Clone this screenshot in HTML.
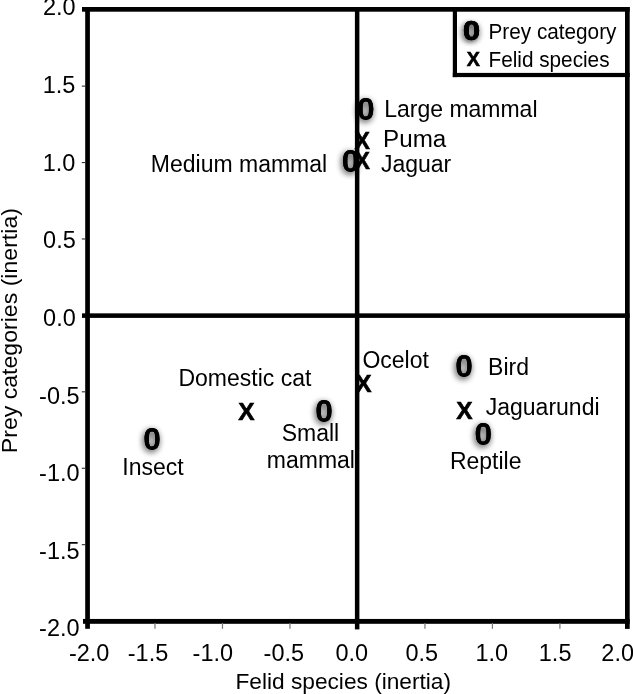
<!DOCTYPE html>
<html><head><meta charset="utf-8"><title>Correspondence analysis</title>
<style>
html,body{margin:0;padding:0;background:#fff;}
body{width:633px;height:694px;overflow:hidden;}
svg{display:block;font-family:"Liberation Sans",sans-serif;fill:#000;}
svg text{white-space:pre;}
svg text.z{filter:url(#sh);}
</style></head><body>
<svg width="633" height="694" viewBox="0 0 633 694">
<defs><filter id="sh" x="-60%" y="-40%" width="220%" height="190%"><feOffset in="SourceGraphic" dy="-0.3" result="u"/><feOffset in="SourceGraphic" dy="0.3" result="d"/><feMerge result="g"><feMergeNode in="u"/><feMergeNode in="d"/></feMerge><feGaussianBlur in="g" stdDeviation="3.2" result="b0"/><feColorMatrix in="b0" type="matrix" values="0 0 0 0 0 0 0 0 0 0 0 0 0 0 0 0 0 0 1 0" result="b"/><feOffset in="b" dx="-0.9" dy="2.3" result="o"/><feComponentTransfer in="o" result="s"><feFuncA type="linear" slope="0.8"/></feComponentTransfer><feMerge><feMergeNode in="s"/><feMergeNode in="g"/></feMerge></filter></defs>
<rect x="0" y="0" width="633" height="694" fill="#fff"/>
<rect x="85.20" y="7.00" width="4.70" height="621.80" fill="#000"/>
<rect x="82.00" y="7.00" width="547.70" height="4.70" fill="#000"/>
<rect x="625.00" y="7.00" width="4.70" height="621.90" fill="#000"/>
<rect x="83.00" y="618.95" width="546.70" height="4.85" fill="#000"/>
<rect x="354.90" y="7.00" width="4.50" height="622.40" fill="#000"/>
<rect x="82.00" y="313.35" width="547.70" height="4.55" fill="#000"/>
<rect x="452.80" y="7.00" width="4.20" height="70.10" fill="#000"/>
<rect x="452.80" y="72.90" width="176.90" height="4.20" fill="#000"/>
<rect x="81.80" y="85.58" width="3.70" height="1.10" fill="#333"/>
<rect x="81.80" y="162.00" width="3.70" height="1.10" fill="#333"/>
<rect x="81.80" y="238.42" width="3.70" height="1.10" fill="#333"/>
<rect x="81.80" y="391.27" width="3.70" height="1.10" fill="#333"/>
<rect x="81.80" y="467.70" width="3.70" height="1.10" fill="#333"/>
<rect x="81.80" y="544.13" width="3.70" height="1.10" fill="#333"/>
<rect x="154.39" y="623.00" width="1.20" height="5.80" fill="#777"/>
<rect x="221.88" y="623.00" width="1.20" height="5.80" fill="#777"/>
<rect x="289.36" y="623.00" width="1.20" height="5.80" fill="#777"/>
<rect x="424.34" y="623.00" width="1.20" height="5.80" fill="#777"/>
<rect x="491.82" y="623.00" width="1.20" height="5.80" fill="#777"/>
<rect x="559.31" y="623.00" width="1.20" height="5.80" fill="#777"/>
<text transform="translate(42.93 15.40) scale(1.0 1.02)" font-size="23.5">2.0</text>
<text transform="translate(42.66 93.35) scale(1.0 1.02)" font-size="23.5">1.5</text>
<text transform="translate(42.63 170.90) scale(1.0 1.02)" font-size="23.5">1.0</text>
<text transform="translate(43.10 248.45) scale(1.0 1.02)" font-size="23.5">0.5</text>
<text transform="translate(43.07 326.00) scale(1.0 1.02)" font-size="23.5">0.0</text>
<text transform="translate(39.12 403.55) scale(1.0 1.02)" font-size="23.5">-0.5</text>
<text transform="translate(39.09 481.10) scale(1.0 1.02)" font-size="23.5">-1.0</text>
<text transform="translate(39.12 558.65) scale(1.0 1.02)" font-size="23.5">-1.5</text>
<text transform="translate(39.09 636.20) scale(1.0 1.02)" font-size="23.5">-2.0</text>
<text transform="translate(68.96 660.80) scale(1.0 1.02)" font-size="23.5">-2.0</text>
<text transform="translate(127.76 660.80) scale(1.0 1.02)" font-size="23.5">-1.5</text>
<text transform="translate(192.56 660.80) scale(1.0 1.02)" font-size="23.5">-1.0</text>
<text transform="translate(263.56 660.80) scale(1.0 1.02)" font-size="23.5">-0.5</text>
<text transform="translate(335.48 660.80) scale(1.0 1.02)" font-size="23.5">0.0</text>
<text transform="translate(405.48 660.80) scale(1.0 1.02)" font-size="23.5">0.5</text>
<text transform="translate(475.41 660.80) scale(1.0 1.02)" font-size="23.5">1.0</text>
<text transform="translate(538.81 660.80) scale(1.0 1.02)" font-size="23.5">1.5</text>
<text transform="translate(601.32 660.80) scale(1.0 1.02)" font-size="23.5">2.0</text>
<text x="235.44" y="688.90" font-size="22.7">Felid species (inertia)</text>
<text transform="translate(17.3 453.19) rotate(-90) scale(1 0.97)" font-size="23.1">Prey categories (inertia)</text>
<text transform="translate(488.50 39.20) scale(1.0 1.03)" font-size="20.75">Prey category</text>
<text transform="translate(488.50 66.50) scale(1.0 1.03)" font-size="20.75">Felid species</text>
<text transform="translate(384.21 116.60) scale(1.0 1.02)" font-size="23">Large mammal</text>
<text transform="translate(383.11 147.40) scale(1.0 0.985)" font-size="24.2">Puma</text>
<text x="380.94" y="171.50" font-size="23">Jaguar</text>
<text x="150.81" y="172.00" font-size="23">Medium mammal</text>
<text x="362.41" y="368.40" font-size="23">Ocelot</text>
<text x="178.41" y="386.20" font-size="23">Domestic cat</text>
<text x="281.66" y="441.20" font-size="23">Small</text>
<text x="266.77" y="468.40" font-size="23">mammal</text>
<text x="122.28" y="474.60" font-size="23">Insect</text>
<text x="488.11" y="374.50" font-size="23">Bird</text>
<text x="485.74" y="414.80" font-size="23">Jaguarundi</text>
<text x="449.91" y="469.10" font-size="23">Reptile</text>
<text class="z" transform="translate(356.89 120.29) scale(1.058 1.064)" font-size="30" font-weight="bold">0</text>
<text class="z" transform="translate(341.69 171.59) scale(1.058 1.064)" font-size="30" font-weight="bold">0</text>
<text class="z" transform="translate(143.19 449.69) scale(1.058 1.064)" font-size="30" font-weight="bold">0</text>
<text class="z" transform="translate(315.29 421.79) scale(1.058 1.064)" font-size="30" font-weight="bold">0</text>
<text class="z" transform="translate(455.19 377.09) scale(1.058 1.064)" font-size="30" font-weight="bold">0</text>
<text class="z" transform="translate(474.39 444.79) scale(1.058 1.064)" font-size="30" font-weight="bold">0</text>
<text class="z" transform="translate(462.99 39.99) scale(1.023 0.890)" font-size="30" font-weight="bold" stroke="#000" stroke-width="0.732">0</text>
<text transform="translate(354.40 148.50) scale(0.962 1.030)" font-size="24" font-weight="bold" stroke="#000" stroke-width="0.602" stroke-linejoin="miter">X</text>
<text transform="translate(354.40 169.40) scale(0.962 1.030)" font-size="24" font-weight="bold" stroke="#000" stroke-width="0.602" stroke-linejoin="miter">X</text>
<text transform="translate(238.23 420.10) scale(1.020 1.030)" font-size="24" font-weight="bold" stroke="#000" stroke-width="0.585" stroke-linejoin="miter">X</text>
<text transform="translate(355.13 391.50) scale(1.020 1.030)" font-size="24" font-weight="bold" stroke="#000" stroke-width="0.585" stroke-linejoin="miter">X</text>
<text transform="translate(456.33 419.40) scale(1.020 1.030)" font-size="24" font-weight="bold" stroke="#000" stroke-width="0.585" stroke-linejoin="miter">X</text>
<text transform="translate(466.73 65.50) scale(0.821 0.824)" font-size="24" font-weight="bold" stroke="#000" stroke-width="0.730" stroke-linejoin="miter">X</text>
</svg>
</body></html>
